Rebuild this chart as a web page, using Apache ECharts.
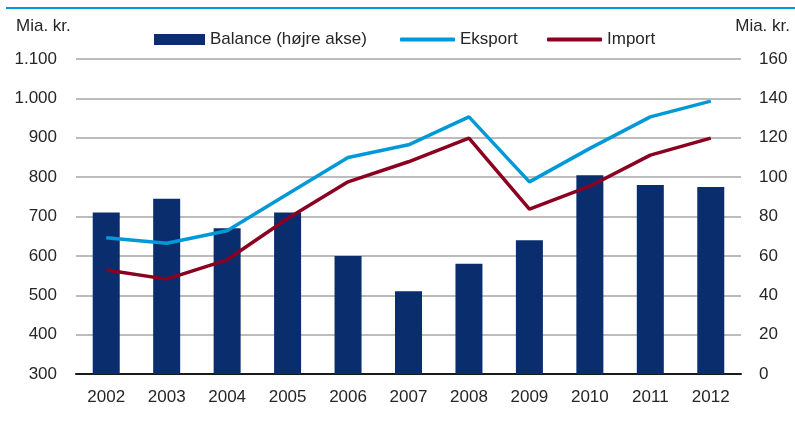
<!DOCTYPE html>
<html>
<head>
<meta charset="utf-8">
<script src="https://cdn.jsdelivr.net/npm/echarts@6/dist/echarts.min.js"></script>
<style>
  html, body { margin: 0; padding: 0; background: #fff; }
  #chart { width: 795px; height: 421px; }
</style>
</head>
<body>
<div id="chart"></div>
<script>
const years = ['2002', '2003', '2004', '2005', '2006', '2007', '2008', '2009', '2010', '2011', '2012']
// Balance, right axis (Mia. kr.)
const balance = [82, 89, 74, 82, 60, 42, 56, 68, 101, 96, 95]
// Eksport / Import, left axis (Mia. kr.)
const eksport = [646, 632, 664, 757, 850, 882, 953, 788, 873, 953, 993]
const importVals = [564, 541, 590, 695, 788, 839, 899, 719, 777, 856, 899]

const font = '"Liberation Sans", Arial, sans-serif'
const textColor = '#262626'
const fs = 17

const chart = echarts.init(document.getElementById('chart'))

chart.setOption({
  backgroundColor: '#fff',
  animation: false,
  textStyle: { fontFamily: font },
  grid: { left: 76, right: 54, top: 59, bottom: 47 },
  graphic: [
    { type: 'rect', shape: { x: 6, y: 7, width: 789, height: 2 }, style: { fill: '#0099d8' } },
    { type: 'text', left: 16, top: 18, style: { text: 'Mia. kr.', font: fs + 'px ' + font, fill: textColor } },
    { type: 'text', right: 5, top: 18, style: { text: 'Mia. kr.', font: fs + 'px ' + font, fill: textColor } }
  ],
  legend: [
    {
      data: ['Balance (højre akse)'],
      left: 154, top: 31, padding: 0,
      itemWidth: 51, itemHeight: 11, itemGap: 6,
      icon: 'rect',
      textStyle: { fontSize: fs, color: textColor, fontFamily: font }
    },
    {
      data: ['Eksport'],
      left: 400, top: 31, padding: 0,
      itemWidth: 55, itemHeight: 4,
      icon: 'roundRect',
      textStyle: { fontSize: fs, color: textColor, fontFamily: font }
    },
    {
      data: ['Import'],
      left: 547, top: 31, padding: 0,
      itemWidth: 55, itemHeight: 4,
      icon: 'roundRect',
      textStyle: { fontSize: fs, color: textColor, fontFamily: font }
    }
  ],
  xAxis: {
    type: 'category',
    data: years,
    axisLine: { lineStyle: { color: '#1a1a1a', width: 2 } },
    axisTick: { show: false },
    axisLabel: { color: textColor, fontSize: fs, margin: 15, fontFamily: font }
  },
  yAxis: [
    {
      type: 'value',
      min: 300, max: 1100, interval: 100,
      axisLine: { show: false },
      axisTick: { show: false },
      splitLine: { lineStyle: { color: '#a6a6a6', width: 1.5 } },
      axisLabel: {
        color: textColor, fontSize: fs, margin: 19, fontFamily: font,
        formatter: v => v >= 1000 ? Math.floor(v / 1000) + '.' + String(v % 1000).padStart(3, '0') : String(v)
      }
    },
    {
      type: 'value',
      min: 0, max: 160, interval: 20,
      axisLine: { show: false },
      axisTick: { show: false },
      splitLine: { show: false },
      axisLabel: { color: textColor, fontSize: fs, margin: 18, fontFamily: font, align: 'left' }
    }
  ],
  series: [
    {
      name: 'Balance (højre akse)',
      type: 'bar',
      yAxisIndex: 1,
      data: balance,
      barWidth: 27,
      itemStyle: { color: '#0a2d6e' },
      z: 1
    },
    {
      name: 'Eksport',
      type: 'line',
      data: eksport,
      showSymbol: false,
      symbol: 'none',
      lineStyle: { color: '#0099d8', width: 3.5 },
      itemStyle: { color: '#0099d8' },
      z: 3
    },
    {
      name: 'Import',
      type: 'line',
      data: importVals,
      showSymbol: false,
      symbol: 'none',
      lineStyle: { color: '#8b0020', width: 3.5 },
      itemStyle: { color: '#8b0020' },
      z: 3
    }
  ]
})
</script>
</body>
</html>
